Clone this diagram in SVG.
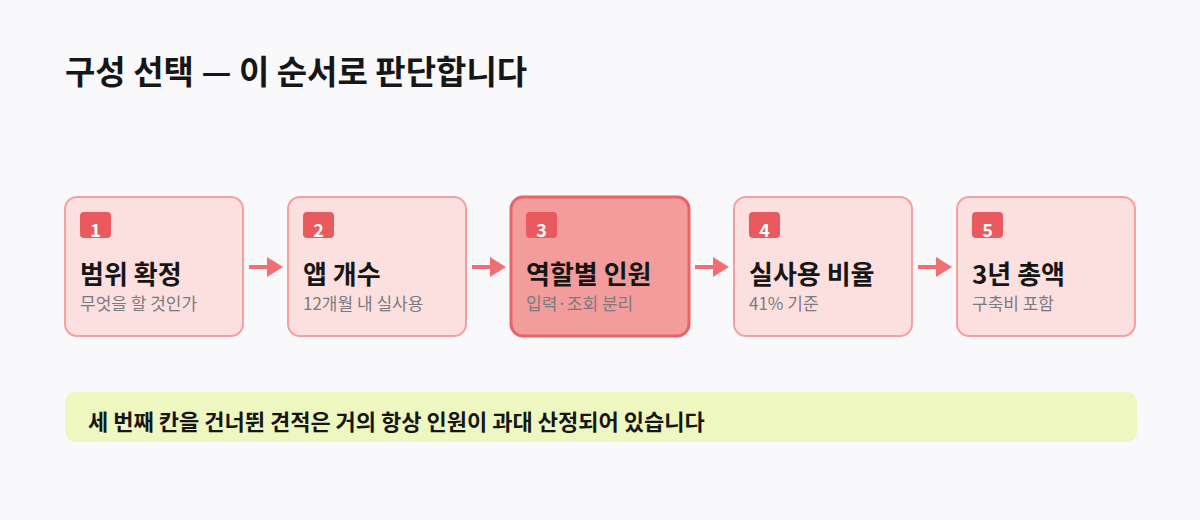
<svg xmlns="http://www.w3.org/2000/svg" width="1200" height="520" viewBox="0 0 1200 520">
<defs>
<style>
.t{font-family:"Noto Sans CJK KR","Noto Sans",sans-serif;}
.box{fill:#fce0e0;stroke:#f3a0a0;stroke-width:2;}
.hot{fill:#f29c9c;stroke:#e8646a;stroke-width:3;}
.badge{fill:#e95a5e;}
.num{font-size:18px;font-weight:700;fill:#ffffff;text-anchor:middle;}
.ttl{font-size:26px;font-weight:700;fill:#161616;}
.sub{font-size:17px;fill:#7a7a80;}
.conn{stroke:#ef7072;stroke-width:4;fill:none;}
</style>
<marker id="ah" viewBox="0 0 16 20" refX="0" refY="10" markerWidth="16" markerHeight="20" markerUnits="userSpaceOnUse" orient="auto">
<path d="M0,0 L16,10 L0,20 Z" fill="#ef7072"/>
</marker>
</defs>
<rect width="1200" height="520" fill="#f9f9fb"/>
<text class="t" x="65" y="84" font-size="33" font-weight="700" fill="#161616">구성 선택 — 이 순서로 판단합니다</text>

<g id="connectors">
<line class="conn" x1="249" y1="267" x2="267" y2="267" marker-end="url(#ah)"/>
<line class="conn" x1="472" y1="267" x2="490" y2="267" marker-end="url(#ah)"/>
<line class="conn" x1="695" y1="267" x2="713" y2="267" marker-end="url(#ah)"/>
<line class="conn" x1="918" y1="267" x2="936" y2="267" marker-end="url(#ah)"/>
</g>

<g id="node1">
<rect class="box" x="65" y="197" width="178" height="139" rx="12"/>
<rect class="badge" x="80" y="212" width="31" height="26" rx="4"/>
<text class="t num" x="95.5" y="237">1</text>
<text class="t ttl" x="80" y="284">범위 확정</text>
<text class="t sub" x="80" y="310">무엇을 할 것인가</text>
</g>
<g id="node2">
<rect class="box" x="288" y="197" width="178" height="139" rx="12"/>
<rect class="badge" x="303" y="212" width="31" height="26" rx="4"/>
<text class="t num" x="318.5" y="237">2</text>
<text class="t ttl" x="303" y="284">앱 개수</text>
<text class="t sub" x="303" y="310">12개월 내 실사용</text>
</g>
<g id="node3">
<rect class="hot" x="511" y="197" width="178" height="139" rx="12"/>
<rect class="badge" x="526" y="212" width="31" height="26" rx="4"/>
<text class="t num" x="541.5" y="237">3</text>
<text class="t ttl" x="526" y="284">역할별 인원</text>
<text class="t sub" x="526" y="310">입력·조회 분리</text>
</g>
<g id="node4">
<rect class="box" x="734" y="197" width="178" height="139" rx="12"/>
<rect class="badge" x="749" y="212" width="31" height="26" rx="4"/>
<text class="t num" x="764.5" y="237">4</text>
<text class="t ttl" x="749" y="284">실사용 비율</text>
<text class="t sub" x="749" y="310">41% 기준</text>
</g>
<g id="node5">
<rect class="box" x="957" y="197" width="178" height="139" rx="12"/>
<rect class="badge" x="972" y="212" width="31" height="26" rx="4"/>
<text class="t num" x="987.5" y="237">5</text>
<text class="t ttl" x="972" y="284">3년 총액</text>
<text class="t sub" x="972" y="310">구축비 포함</text>
</g>

<g id="callout">
<rect x="65" y="392" width="1072" height="50" rx="10" fill="#eff7c0"/>
<text class="t" x="88" y="430" font-size="22" font-weight="700" fill="#161616">세 번째 칸을 건너뛴 견적은 거의 항상 인원이 과대 산정되어 있습니다</text>
</g>
</svg>
